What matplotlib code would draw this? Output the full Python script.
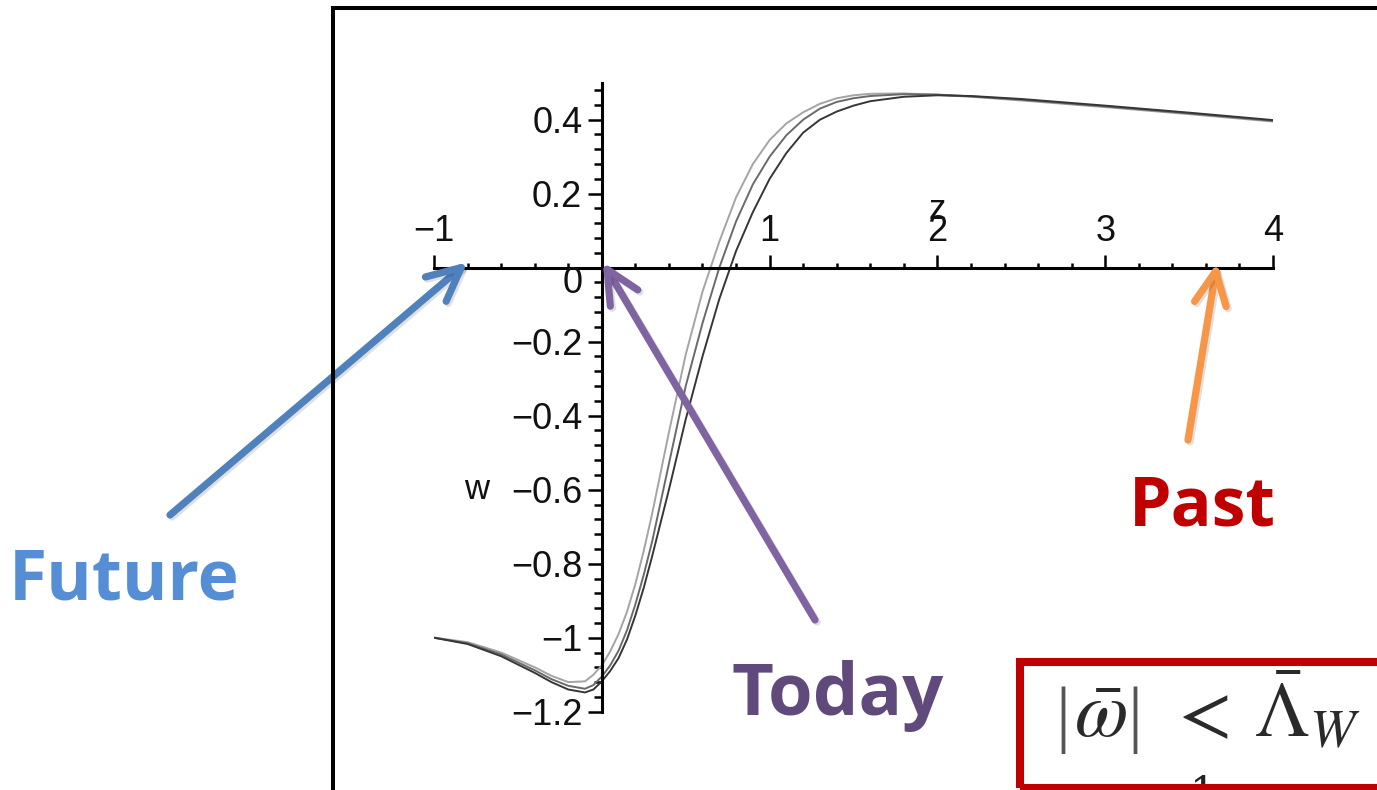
import matplotlib
matplotlib.use("Agg")
import matplotlib.pyplot as plt
from matplotlib.ticker import MultipleLocator, FixedLocator
from matplotlib.patches import Rectangle
from matplotlib.lines import Line2D
import matplotlib.patheffects as pe

# Redshift grid and three reconstructed equation-of-state curves w(z)
z = [-1.0, -0.8, -0.6, -0.4, -0.3, -0.2, -0.1, -0.05, 0.0, 0.05, 0.1, 0.15,
     0.2, 0.25, 0.3, 0.4, 0.5, 0.6, 0.7, 0.8, 0.9, 1.0, 1.1, 1.2, 1.3, 1.4,
     1.5, 1.6, 1.8, 2.0, 2.2, 2.5, 3.0, 3.5, 4.0]
w_light = [-1.000, -1.012, -1.040, -1.080, -1.103, -1.120, -1.118, -1.100,
           -1.075, -1.037, -0.990, -0.930, -0.855, -0.765, -0.665, -0.445,
           -0.235, -0.065, 0.070, 0.190, 0.280, 0.345, 0.390, 0.420, 0.443,
           0.458, 0.466, 0.470, 0.471, 0.467, 0.462, 0.452, 0.434, 0.415,
           0.395]
w_mid = [-1.000, -1.015, -1.045, -1.088, -1.112, -1.130, -1.138, -1.128,
         -1.105, -1.075, -1.035, -0.980, -0.910, -0.830, -0.740, -0.530,
         -0.320, -0.150, 0.000, 0.125, 0.225, 0.300, 0.358, 0.400, 0.430,
         0.448, 0.458, 0.464, 0.469, 0.468, 0.463, 0.454, 0.436, 0.417,
         0.397]
w_dark = [-1.000, -1.017, -1.050, -1.095, -1.120, -1.140, -1.148, -1.140,
          -1.118, -1.090, -1.055, -1.005, -0.940, -0.865, -0.780, -0.600,
          -0.410, -0.240, -0.085, 0.045, 0.150, 0.240, 0.310, 0.365, 0.400,
          0.422, 0.438, 0.450, 0.462, 0.466, 0.464, 0.456, 0.438, 0.419,
          0.399]

x_ticks = [-1, 0, 1, 2, 3, 4]
x_tick_labels = ["\u22121", "", "1", "2", "3", "4"]
y_ticks = [-1.2, -1.0, -0.8, -0.6, -0.4, -0.2, 0.0, 0.2, 0.4]
y_tick_labels = ["\u22121.2", "\u22121", "\u22120.8", "\u22120.6", "\u22120.4",
                 "\u22120.2", "", "0.2", "0.4"]

W, H = 1377, 790
plt.rcParams["mathtext.fontset"] = "stix"
fig = plt.figure(figsize=(W / 100, H / 100), dpi=100)
fig.patch.set_facecolor("white")


def fx(x):
    return x / W


def fy(y):
    return 1 - y / H


# plot area: z from -1 to 4, w from -1.2 to 0.5
left_px, right_px = 434, 1273
top_px, bot_px = 82.7, 711.7
ax = fig.add_axes([fx(left_px), fy(bot_px), (right_px - left_px) / W,
                   (bot_px - top_px) / H])
ax.set_xlim(-1, 4)
ax.set_ylim(-1.2, 0.5)
ax.patch.set_alpha(0)

for wv, col in [(w_light, "#a4a4a4"), (w_mid, "#6a6a6a"), (w_dark, "#363636")]:
    ax.plot(z, wv, color=col, lw=1.4, solid_capstyle="round",
            solid_joinstyle="round")

# axes crossing at the origin
for s in ("bottom", "right"):
    ax.spines[s].set_visible(False)
ax.spines["left"].set_position(("data", 0))
ax.spines["top"].set_position(("data", 0))
for s in ("left", "top"):
    ax.spines[s].set_linewidth(2.2)
    ax.spines[s].set_color("black")

tick_font = dict(family="Liberation Sans", size=26, color="#111111")

ax.xaxis.set_ticks_position("top")
ax.xaxis.set_major_locator(FixedLocator(x_ticks))
ax.xaxis.set_minor_locator(MultipleLocator(0.2))
ax.set_xticklabels(x_tick_labels, fontdict=tick_font)
ax.tick_params(axis="x", which="major", direction="out", length=9.5, width=1.8, pad=4.0)
ax.tick_params(axis="x", which="minor", direction="out", length=3.6, width=1.8)

ax.yaxis.set_ticks_position("left")
ax.yaxis.set_major_locator(FixedLocator(y_ticks))
ax.yaxis.set_minor_locator(MultipleLocator(0.04))
ax.set_yticklabels(y_tick_labels, fontdict=tick_font)
ax.tick_params(axis="y", which="major", direction="out", length=10, width=1.8, pad=4.0)
ax.tick_params(axis="y", which="minor", direction="out", length=6, width=1.8)

ax.annotate("0", xy=(0, 0), xytext=(-19, -16), textcoords="offset pixels",
            ha="right", va="center", family="Liberation Sans", fontsize=26,
            color="#111111")
ax.text(2.0, 0.158, "z", ha="center", va="center", family="Liberation Sans",
        fontsize=25, color="#111111")
ax.text(-0.745, -0.6, "w", ha="center", va="center", family="Liberation Sans",
        fontsize=25, color="#111111")

# frame of the slide picture
fig.add_artist(Line2D([fx(333), fx(333), fx(W + 10)], [fy(H + 10), fy(8), fy(8)],
                      transform=fig.transFigure, color="black", lw=2.9,
                      solid_joinstyle="miter"))

# arrows pointing at the time axis
shadow = [pe.SimpleLineShadow(offset=(1.5, -1.5), shadow_color="k", alpha=0.12),
          pe.Normal()]
arrows = [((-0.80, 0.015), (170, 515), "#4F81BD"),
          ((0.006, 0.015), (815, 620), "#8064A2"),
          ((3.667, 0.013), (1188, 440), "#F79646")]
for tip, tail, col in arrows:
    ax.annotate("", xy=tip, xycoords="data",
                xytext=(tail[0], H - tail[1]), textcoords="figure pixels",
                annotation_clip=False,
                arrowprops=dict(arrowstyle="->,head_length=2.4,head_width=1.15",
                                mutation_scale=10, color=col, lw=5.2,
                                shrinkA=0, shrinkB=0, capstyle="round",
                                joinstyle="round", path_effects=shadow))

label_font = dict(family="Open Sans", fontweight="bold")
fig.text(fx(124), fy(600), "Future", ha="center", va="baseline",
         color="#558ED5", fontsize=50, **label_font)
fig.text(fx(838), fy(715), "Today", ha="center", va="baseline",
         color="#604A7B", fontsize=52, **label_font)
fig.text(fx(1202), fy(525), "Past", ha="center", va="baseline",
         color="#C00000", fontsize=49, **label_font)

# boxed condition |omega-bar| < Lambda-bar_W
fig.add_artist(Rectangle((fx(1020), fy(788)), (W + 40 - 1020) / W, (788 - 662) / H,
                         transform=fig.transFigure, fill=False,
                         edgecolor="#C00000", lw=5.8))
eq_col = "#2a2a2a"
for bx in (1063, 1135):
    fig.text(fx(bx), fy(720), "|", ha="center", va="center",
             family="Liberation Serif", fontsize=54, color="#555555")
fig.text(fx(1100), fy(737), r"$\bar{\omega}$", ha="center", va="baseline",
         fontsize=56, color=eq_col)
fig.text(fx(1198), fy(737), r"$<$", ha="center", va="baseline",
         fontsize=56, color=eq_col)
fig.text(fx(1254), fy(737), r"$\bar{\Lambda}_W$", ha="left", va="baseline",
         fontsize=56, color=eq_col)
fig.text(fx(1203), fy(774), "1", ha="center", va="top", family="DejaVu Serif",
         fontsize=30, color="#222222", zorder=0)

fig.savefig("out.png", dpi=100, facecolor="white")
